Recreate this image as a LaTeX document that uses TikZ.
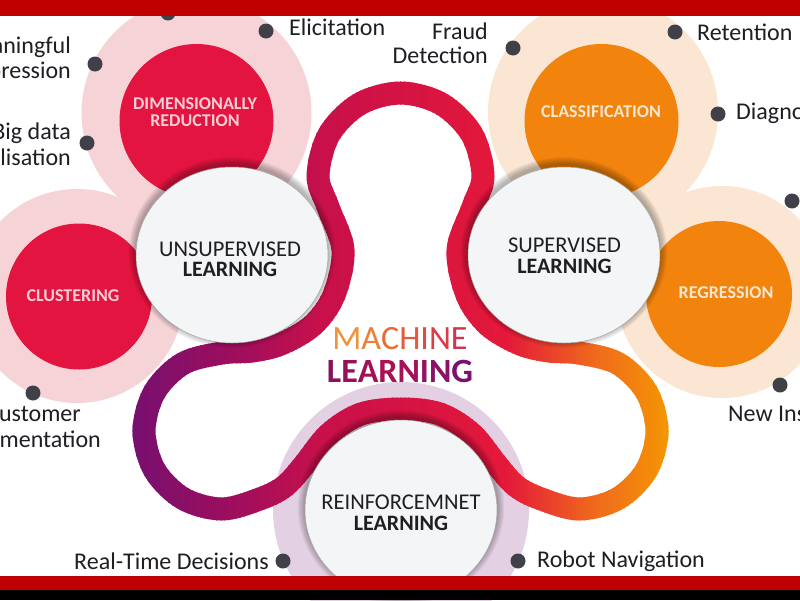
\documentclass[tikz,border=0pt]{standalone}
\usepackage{fontspec}
\setmainfont{Carlito}
\definecolor{barred}{HTML}{C00000}
\definecolor{redin}{HTML}{E3143F}
\definecolor{redout}{HTML}{F6D3D7}
\definecolor{orin}{HTML}{F2830D}
\definecolor{orout}{HTML}{FAE6D2}
\definecolor{purout}{HTML}{E3D0E3}
\definecolor{dotc}{HTML}{404048}
\definecolor{hubc}{HTML}{F4F5F6}
\definecolor{inkc}{HTML}{1E1E24}
\definecolor{pinktxt}{HTML}{F9CDD4}
\definecolor{creamtxt}{HTML}{FCE6CC}
\definecolor{tubeA}{HTML}{760F70}
\definecolor{tubeB}{HTML}{A00E5C}
\definecolor{tubeC}{HTML}{C8104A}
\definecolor{tubeD}{HTML}{E4183A}
\definecolor{tubeE}{HTML}{F0701A}
\definecolor{tubeF}{HTML}{F59A00}
\tikzset{
  dotn/.style={circle,fill=dotc,inner sep=0pt,minimum size=15pt},
  lab/.style={text=inkc,font=\fontsize{24}{26}\selectfont,inner sep=0pt},
  hubt/.style={text=inkc,align=center,font=\fontsize{22.5}{20.5}\selectfont,inner sep=0pt},
  catp/.style={text=pinktxt,font=\bfseries\fontsize{18}{20}\selectfont,inner sep=0pt},
  cato/.style={text=creamtxt,font=\bfseries\fontsize{18}{20}\selectfont,inner sep=0pt},
  hubd/.style={fill=hubc,draw=black!35,line width=0.5pt},
  tubeline/.style={insert path={plot[smooth cycle,tension=0.55] coordinates {
    (400.5,93) (441.5,104) (472,134.5) (483,176) (473,207) (458,250) (467,295) (488,325)
    (520,344) (549,351) (579,353) (618,363.5) (646.5,392) (657,431) (646.5,470) (618,498.5)
    (579,509) (540,498.5) (516,486) (497,465) (472,434) (440,414) (401,409) (361,414)
    (329,434) (304,465) (285,486) (261,498.5) (222,509) (183,498.5) (154.5,470) (144,431)
    (154.5,392) (183,363.5) (222,353) (252,351) (281,344) (313,325) (334,295) (343,250)
    (328,207) (318,176) (329,134.5) (359.5,104)}}},
}
\newcommand{\tubepart}[4]{%
  \pgfmathtruncatemacro{\nx}{#1+4}%
  \foreach \sx in {#1,\nx,...,#2}{%
    \pgfmathtruncatemacro{\sp}{(\sx-#1)/(#2-#1)*100}%
    \begin{scope}
      \clip (\sx,0) rectangle (\sx+5,600);
      \draw[color=#4!\sp!#3,line width=23pt,tubeline];
    \end{scope}}}
\newcommand{\softshadow}[4]{%
  \foreach \k in {1,...,6}{%
    \fill[black,opacity=0.05] (#1,#2-2.5) ellipse [x radius=#3+\k*1.2,y radius=#4+\k*1.2];}}
\newcommand{\hublearn}{{\bfseries\fontsize{22}{20.5}\selectfont LEARNING}}
\begin{document}
\begin{tikzpicture}[x=1pt,y=-1pt]
\useasboundingbox (0,0) rectangle (800,600);
\clip (0,0) rectangle (800,600);
\fill[white] (0,0) rectangle (800,600);
% halos
\fill[redout] (196.5,113) circle (115);
\fill[redout] (77,296) circle (107);
\fill[orout] (603,112) circle (115);
\fill[orout] (722,292) circle (106);
\fill[purout] (401,510) circle (128);
% category discs
\fill[redin] (196.5,121) circle (77);
\fill[redin] (79,296.5) circle (73);
\fill[orin] (601.5,121) circle (77);
\fill[orin] (719,294) circle (73);
% tube, painted in strips for its left-to-right gradient
\tubepart{128}{236}{tubeA}{tubeB}
\tubepart{240}{320}{tubeB}{tubeC}
\tubepart{324}{500}{tubeC}{tubeD}
\tubepart{504}{600}{tubeD}{tubeE}
\tubepart{604}{672}{tubeE}{tubeF}
% hub shadows and discs
\softshadow{232}{255}{96}{88}
\softshadow{564}{255}{96}{88}
\softshadow{401}{510}{96}{90}
\path[hubd] (232,255) ellipse [x radius=96,y radius=88];
\path[hubd] (564,255) ellipse [x radius=96,y radius=88];
\path[hubd] (401,510) ellipse [x radius=96,y radius=90];
% dots
\node[dotn] (d1) at (168,13) {};
\node[dotn] (d2) at (266,31) {};
\node[dotn] (d3) at (95,64) {};
\node[dotn] (d4) at (87,143) {};
\node[dotn] (d5) at (513,48) {};
\node[dotn] (d6) at (675,32) {};
\node[dotn] (d7) at (718,114) {};
\node[dotn] (d8) at (792,201) {};
\node[dotn] (d9) at (33,393) {};
\node[dotn] (d10) at (780,385) {};
\node[dotn] (d11) at (283,561) {};
\node[dotn] (d12) at (518,561) {};
% outer labels
\node[lab,anchor=west] (t1) at (289,27) {Elicitation};
\node[lab,anchor=east] (t2) at (71,47) {aningful};
\node[lab,anchor=east] (t3) at (71,72) {pression};
\node[lab,anchor=east] (t4) at (71,133) {Big data};
\node[lab,anchor=east] (t5) at (71,157) {lisation};
\node[lab,anchor=east] (t6) at (488,31) {Fraud};
\node[lab,anchor=east] (t7) at (488,55) {Detection};
\node[lab,anchor=west] (t8) at (697,32) {Retention};
\node[lab,anchor=west] (t9) at (736,113) {Diagno};
\node[lab,anchor=east] (t10) at (81,414) {ustomer};
\node[lab,anchor=east] (t11) at (101,439) {mentation};
\node[lab,anchor=west] (t12) at (728,414) {New Ins};
\node[lab,anchor=west] (t13) at (74,561) {Real-Time Decisions};
\node[lab,anchor=west] (t14) at (537,561) {Robot Navigation};
% category labels
\node[catp] (c1) at (195,104) {DIMENSIONALLY};
\node[catp] (c2) at (195,121) {REDUCTION};
\node[catp] (c3) at (73,296) {CLUSTERING};
\node[cato] (c4) at (601,112) {CLASSIFICATION};
\node[cato] (c5) at (726,293) {REGRESSION};
% hub labels
\node[hubt] (h1) at (230,259.5) {UNSUPERVISED\\\hublearn};
\node[hubt] (h2) at (564.5,256) {SUPERVISED\\\hublearn};
\node[hubt] (h3) at (401,513) {REINFORCEMNET\\\hublearn};
% title
\node[inner sep=0pt,font=\fontsize{34}{36}\selectfont] (m1) at (400,339)
 {\textcolor[HTML]{F0923A}{M}\textcolor[HTML]{EC7F3A}{A}\textcolor[HTML]{E86C3A}{C}\textcolor[HTML]{E45A3C}{H}\textcolor[HTML]{DE4A40}{I}\textcolor[HTML]{D83E48}{N}\textcolor[HTML]{D23450}{E}};
\node[inner sep=0pt,font=\bfseries\fontsize{34}{36}\selectfont] (m2) at (400,371)
 {\textcolor[HTML]{8A1060}{L}\textcolor[HTML]{96105A}{E}\textcolor[HTML]{A21056}{A}\textcolor[HTML]{AA1052}{R}\textcolor[HTML]{A61058}{N}\textcolor[HTML]{981060}{I}\textcolor[HTML]{8A1068}{N}\textcolor[HTML]{7A1070}{G}};
% frame bars
\fill[barred] (0,0) rectangle (800,16);
\fill[barred] (0,576) rectangle (800,590);
\fill[black] (0,590) rectangle (800,600);
\end{tikzpicture}
\end{document}
